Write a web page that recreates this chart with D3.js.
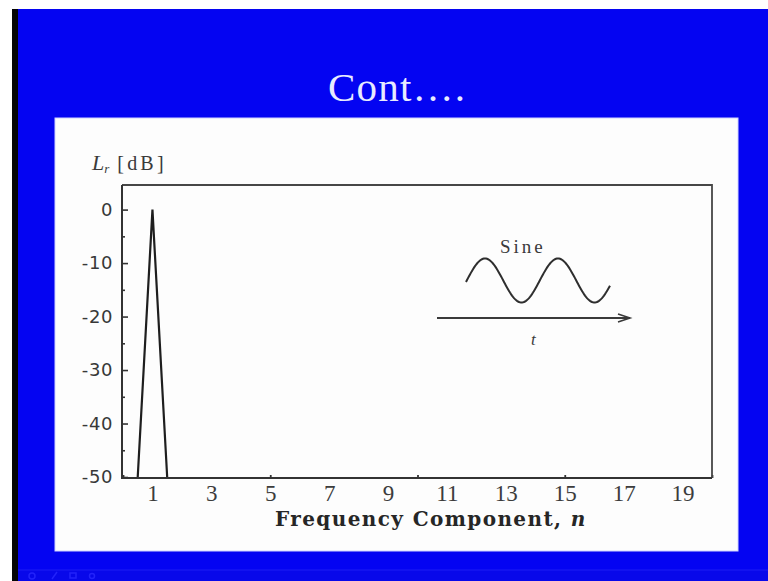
<!DOCTYPE html>
<html>
<head>
<meta charset="utf-8">
<script src="https://cdn.jsdelivr.net/npm/d3@7/dist/d3.min.js"></script>
<style>
  html, body { margin: 0; padding: 0; background: #ffffff; }
  svg { display: block; }
</style>
</head>
<body>
<svg id="slide" width="768" height="581"></svg>
<script>
// Harmonic spectrum of a pure sine: a single line at the fundamental
const harmonicN = [0.5, 1, 1.5];          // frequency component, n
const levelDb   = [-50, 0, -50];          // L_r in dB
const xTickLabels = [1, 3, 5, 7, 9, 11, 13, 15, 17, 19];
const xTickMarks  = [0, 5, 10, 15, 20];
const yTickLabels = [0, -10, -20, -30, -40, -50];
const yMinorTicks = [-5, -15, -25, -35, -45];
const inlineCycles = 2;                   // periods shown in the sine glyph

(function draw() {
  const svg = d3.select("#slide");
  const W = 768, H = 581;

  // slide backdrop
  svg.append("rect").attr("width", W).attr("height", H).attr("fill", "#ffffff");
  svg.append("rect").attr("x", 12).attr("y", 9).attr("width", W - 12).attr("height", H - 9).attr("fill", "#050505");
  svg.append("rect").attr("x", 18).attr("y", 9).attr("width", W - 18).attr("height", H - 9).attr("fill", "#0404f2");
  svg.append("rect").attr("x", 18).attr("y", 570).attr("width", W - 18).attr("height", 11).attr("fill", "#0808ea");
  svg.append("line").attr("x1", 18).attr("x2", W).attr("y1", 570).attr("y2", 570)
    .attr("stroke", "#1c1cf4").attr("stroke-width", 1);

  // faint toolbar glyphs in the footer strip
  const footer = svg.append("g").attr("fill", "none").attr("stroke", "#2222fa").attr("stroke-width", 1.5);
  footer.append("circle").attr("cx", 32).attr("cy", 576).attr("r", 3);
  footer.append("line").attr("x1", 52).attr("y1", 579).attr("x2", 57).attr("y2", 572);
  footer.append("rect").attr("x", 70).attr("y", 573).attr("width", 6).attr("height", 5);
  footer.append("circle").attr("cx", 92).attr("cy", 576).attr("r", 2.5);

  // title
  svg.append("text")
    .attr("x", 328).attr("y", 101)
    .attr("font-family", "'Liberation Serif', 'Times New Roman', serif")
    .attr("font-size", 41)
    .attr("letter-spacing", 1.2)
    .attr("fill", "#e8ebff")
    .text("Cont….");

  // white chart panel
  svg.append("rect")
    .attr("x", 55).attr("y", 118).attr("width", 683).attr("height", 433)
    .attr("fill", "#fdfdfd").attr("stroke", "#cfd2ff").attr("stroke-width", 1);

  // plot frame geometry
  const fLeft = 122, fRight = 712, fTop = 185, fBottom = 478;

  const x = d3.scaleLinear().domain([0, 20]).range([123, 712]);
  const y = d3.scaleLinear().domain([-50, 4.6]).range([477, fTop]);

  const ink = "#333333";

  // y axis: labelled major ticks pointing inward
  const yAxis = svg.append("g").attr("transform", `translate(${fLeft},0)`)
    .call(d3.axisLeft(y).tickValues(yTickLabels).tickFormat(d3.format("d"))
      .tickSizeInner(-6).tickSizeOuter(0).tickPadding(9));
  yAxis.select(".domain").remove();
  yAxis.selectAll(".tick line").attr("stroke", ink).attr("stroke-width", 1.6);
  yAxis.selectAll(".tick text")
    .attr("font-family", "'DejaVu Sans', Verdana, sans-serif")
    .attr("font-size", 18)
    .attr("letter-spacing", 0.6)
    .attr("fill", "#383838")
    .text(d => d === 0 ? "0" : "-" + Math.abs(d));

  const yMinor = svg.append("g").attr("transform", `translate(${fLeft},0)`)
    .call(d3.axisLeft(y).tickValues(yMinorTicks).tickFormat("").tickSizeInner(-3).tickSizeOuter(0));
  yMinor.select(".domain").remove();
  yMinor.selectAll(".tick line").attr("stroke", ink).attr("stroke-width", 1.6);

  // x axis: odd harmonic labels, tick marks every 5
  const xLab = svg.append("g").attr("transform", `translate(0,${fBottom})`)
    .call(d3.axisBottom(x).tickValues(xTickLabels).tickFormat(d3.format("d")).tickSize(0));
  xLab.select(".domain").remove();
  xLab.selectAll(".tick text")
    .attr("dy", null).attr("y", 23)
    .attr("font-family", "'Liberation Serif', 'Times New Roman', serif")
    .attr("font-size", 23)
    .attr("fill", "#3c3c3c");

  const xMarks = svg.append("g").attr("transform", `translate(0,${fBottom})`)
    .call(d3.axisBottom(x).tickValues(xTickMarks).tickFormat("").tickSizeInner(-3).tickSizeOuter(0));
  xMarks.select(".domain").remove();
  xMarks.selectAll(".tick line").attr("stroke", ink).attr("stroke-width", 1.8);

  // frame: top and right light, left and bottom heavier
  svg.append("path")
    .attr("d", `M${fLeft},${fTop}H${fRight}V${fBottom}`)
    .attr("fill", "none").attr("stroke", "#474747").attr("stroke-width", 1.8);
  svg.append("path")
    .attr("d", `M${fLeft},${fTop}V${fBottom}H${fRight}`)
    .attr("fill", "none").attr("stroke", ink).attr("stroke-width", 2);

  // spectrum line
  const spectrum = harmonicN.map((n, i) => ({ n, L: levelDb[i] }));
  svg.append("path")
    .datum(spectrum)
    .attr("fill", "none")
    .attr("stroke", "#1e1e1e")
    .attr("stroke-width", 2.2)
    .attr("d", d3.line().x(d => x(d.n)).y(d => y(d.L)));

  // y axis label L_r [dB]
  const yTitle = svg.append("text")
    .attr("x", 92).attr("y", 170)
    .attr("font-family", "'Liberation Serif', 'Times New Roman', serif")
    .attr("fill", "#3a3a3a");
  yTitle.append("tspan").attr("font-style", "italic").attr("font-size", 22).text("L");
  yTitle.append("tspan").attr("font-style", "italic").attr("font-size", 13).attr("dy", 3).text("r");
  yTitle.append("tspan").attr("font-size", 20).attr("dy", -3).attr("dx", 8)
    .attr("letter-spacing", 3.2).text("[dB]");

  // x axis title
  const xTitle = svg.append("text")
    .attr("x", 275).attr("y", 526)
    .attr("font-family", "'DejaVu Serif', 'Century Schoolbook', serif")
    .attr("font-size", 20)
    .attr("font-weight", "bold")
    .attr("letter-spacing", 1.4)
    .attr("fill", "#262626");
  xTitle.append("tspan").text("Frequency Component, ");
  xTitle.append("tspan").attr("font-style", "italic").text("n");

  // inline sine waveform glyph above a time arrow
  const glyph = svg.append("g").attr("transform", "translate(437,318)");
  const arrowLen = 193;
  glyph.append("line").attr("x1", 0).attr("x2", arrowLen).attr("y1", 0).attr("y2", 0)
    .attr("stroke", "#3a3a3a").attr("stroke-width", 2);
  glyph.append("path")
    .attr("d", `M${arrowLen - 12},-4L${arrowLen},0L${arrowLen - 12},4`)
    .attr("fill", "none").attr("stroke", "#3a3a3a").attr("stroke-width", 1.6);

  const period = 73, amp = 22, mid = -37.5, crest = 48;
  const waveStart = 29, waveEnd = 29 + period * inlineCycles - 2;
  const wave = d3.range(waveStart, waveEnd + 0.5, 1)
    .map(px => [px, mid - amp * Math.cos(2 * Math.PI * (px - crest) / period)]);
  glyph.append("path")
    .attr("d", d3.line()(wave))
    .attr("fill", "none").attr("stroke", "#2e2e2e").attr("stroke-width", 2);

  glyph.append("text")
    .attr("x", 63).attr("y", -65)
    .attr("font-family", "'Liberation Serif', 'Times New Roman', serif")
    .attr("font-size", 19).attr("letter-spacing", 3)
    .attr("fill", "#3a3a3a").text("Sine");
  glyph.append("text")
    .attr("x", 94).attr("y", 27)
    .attr("font-family", "'Liberation Serif', 'Times New Roman', serif")
    .attr("font-size", 17).attr("font-style", "italic")
    .attr("fill", "#3a3a3a").text("t");
})();
</script>
</body>
</html>
